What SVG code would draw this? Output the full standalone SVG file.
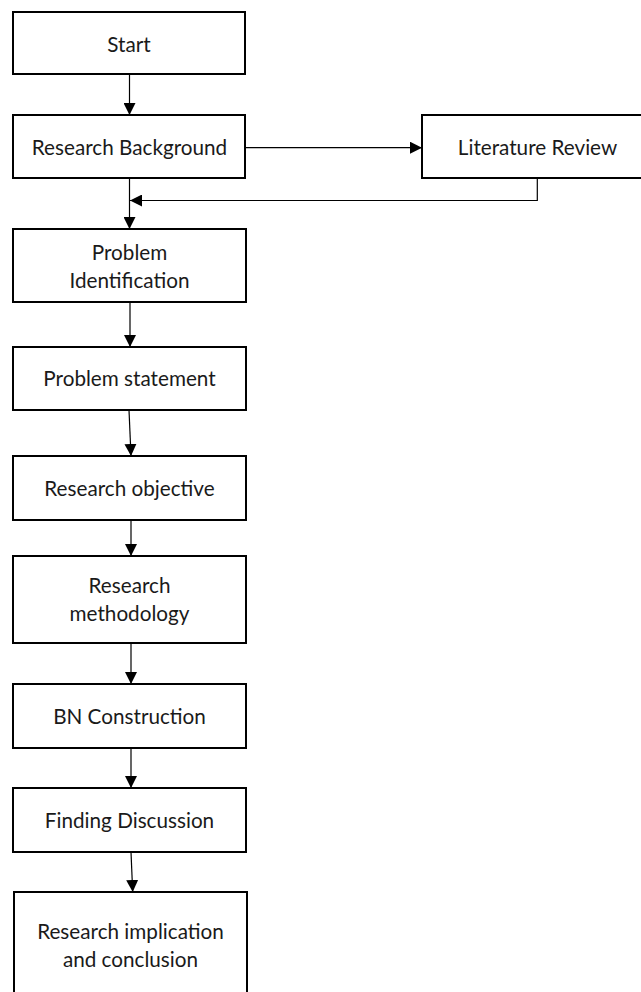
<svg xmlns="http://www.w3.org/2000/svg" width="641" height="992" viewBox="0 0 641 992">
<style>
.box{fill:#fff;stroke:#000;stroke-width:2}
.lbl{font-family:Lato,"Open Sans","Liberation Sans",sans-serif;font-size:20.7px;fill:#1a1a1a;text-anchor:middle}
.con{fill:none;stroke:#000;stroke-width:1.2}
</style>
<defs>
<marker id="ah" markerUnits="userSpaceOnUse" markerWidth="12" markerHeight="12" refX="12" refY="6" orient="auto">
<path d="M0,0 L12,6 L0,12 z" fill="#000"/>
</marker>
</defs>
<rect width="641" height="992" fill="#fff"/>
<g id="connectors">
<line class="con" x1="129.5" y1="74" x2="129.5" y2="115" marker-end="url(#ah)"/>
<line class="con" x1="245" y1="147.7" x2="422" y2="147.7" marker-end="url(#ah)"/>
<line class="con" x1="129.5" y1="178" x2="129.5" y2="229" marker-end="url(#ah)"/>
<polyline class="con" points="537.3,178 537.3,200.5 130,200.5" marker-end="url(#ah)"/>
<line class="con" x1="130" y1="302" x2="130" y2="347" marker-end="url(#ah)"/>
<line class="con" x1="129" y1="410" x2="131" y2="456" marker-end="url(#ah)"/>
<line class="con" x1="131" y1="520" x2="131" y2="556" marker-end="url(#ah)"/>
<line class="con" x1="131" y1="643" x2="131" y2="684" marker-end="url(#ah)"/>
<line class="con" x1="131" y1="748" x2="131" y2="788" marker-end="url(#ah)"/>
<line class="con" x1="131" y1="852" x2="132.7" y2="892" marker-end="url(#ah)"/>
</g>
<g id="start"><rect class="box" x="13" y="12" width="232" height="62"/><text class="lbl" x="129" y="51.7">Start</text></g>
<g id="research-background"><rect class="box" x="13" y="115" width="232" height="63"/><text class="lbl" x="129.5" y="155">Research Background</text></g>
<g id="literature-review"><rect class="box" x="422" y="115" width="232" height="63"/><text class="lbl" x="537.5" y="155">Literature Review</text></g>
<g id="problem-identification"><rect class="box" x="13" y="229" width="233" height="73"/><text class="lbl" x="129.5" y="260">Problem</text><text class="lbl" x="129.5" y="288">Identification</text></g>
<g id="problem-statement"><rect class="box" x="13" y="347" width="233" height="63"/><text class="lbl" x="129.5" y="386">Problem statement</text></g>
<g id="research-objective"><rect class="box" x="13" y="456" width="233" height="64"/><text class="lbl" x="129.5" y="496">Research objective</text></g>
<g id="research-methodology"><rect class="box" x="13" y="556" width="233" height="87"/><text class="lbl" x="129.5" y="593">Research</text><text class="lbl" x="129.5" y="621">methodology</text></g>
<g id="bn-construction"><rect class="box" x="13" y="684" width="233" height="64"/><text class="lbl" x="129.5" y="724">BN Construction</text></g>
<g id="finding-discussion"><rect class="box" x="13" y="788" width="233" height="64"/><text class="lbl" x="129.5" y="828">Finding Discussion</text></g>
<g id="research-implication"><rect class="box" x="14" y="892" width="233" height="110"/><text class="lbl" x="130.5" y="939">Research implication</text><text class="lbl" x="130.5" y="967">and conclusion</text></g>
</svg>
